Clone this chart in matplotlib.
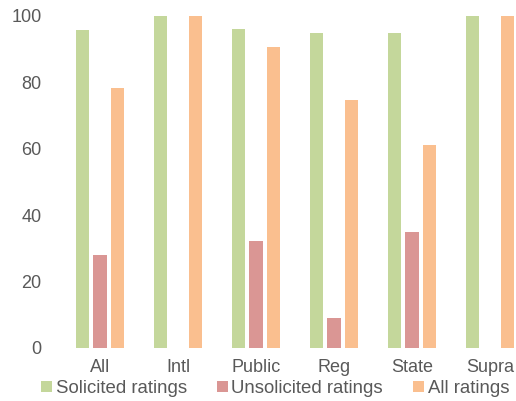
import matplotlib
matplotlib.use("Agg")
import matplotlib.pyplot as plt
import numpy as np
from matplotlib.patches import Patch

categories = ["All", "Intl", "Public", "Reg", "State", "Supra"]
solicited = [95.8, 100, 96.1, 94.9, 94.9, 100]
unsolicited = [28.0, 0, 32.2, 9.0, 35.0, 0]
all_ratings = [78.3, 100, 90.7, 74.7, 61.1, 100]
series_names = ["Solicited ratings", "Unsolicited ratings", "All ratings"]
colors = ["#C4D79B", "#DA9694", "#FABF8F"]

plt.rcParams['font.family'] = ['Liberation Sans', 'DejaVu Sans']
fig = plt.figure(figsize=(5.16, 4.01), dpi=100)
ax = fig.add_axes([61/516, 53/401, 468/516, 332/401])

x = np.arange(len(categories))
w = 0.17
off = 0.225
for i, (vals, c) in enumerate(zip([solicited, unsolicited, all_ratings], colors)):
    ax.bar(x + (i - 1) * off, vals, width=w, color=c)

ax.set_xlim(-0.5, len(categories) - 0.5)
ax.set_ylim(0, 100)
ax.set_yticks(range(0, 101, 20))
ax.set_xticks(x)
ax.set_xticklabels(categories)
for s in ax.spines.values():
    s.set_visible(False)
ax.tick_params(axis='both', length=0, labelsize=13, colors="#595959")
ax.tick_params(axis='y', pad=14)
ax.tick_params(axis='x', pad=8)

handles = [Patch(facecolor=c, label=n) for c, n in zip(colors, series_names)]
fig.legend(handles=handles, loc='center', bbox_to_anchor=(275/516, 12.5/401), ncol=3,
           frameon=False, fontsize=13.4, handlelength=0.6, handleheight=0.6,
           handletextpad=0.2, columnspacing=1.6, labelcolor="#595959",
           borderpad=0, borderaxespad=0)

fig.savefig("out.png", dpi=100)
